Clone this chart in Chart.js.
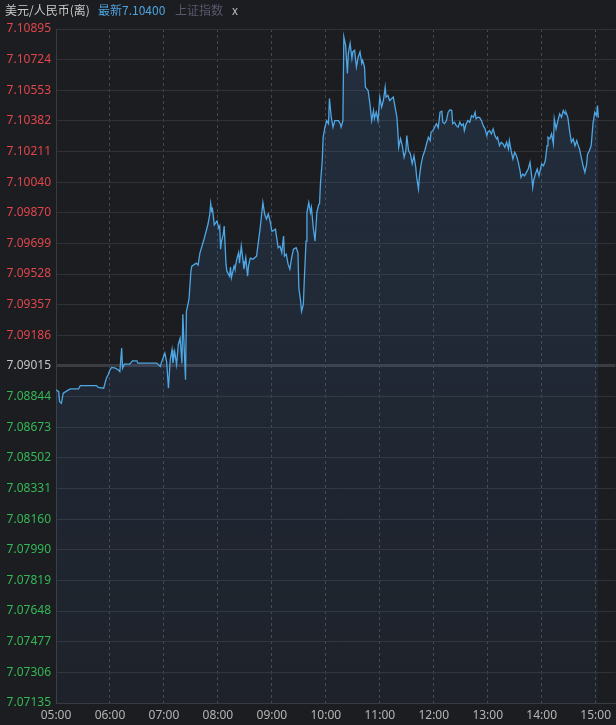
<!DOCTYPE html>
<html>
<head>
<meta charset="utf-8">
<script src="https://cdn.jsdelivr.net/npm/chart.js@4"></script>
<style>
  html, body { margin: 0; padding: 0; background: #1c1d21; }
  #wrap { position: relative; width: 616px; height: 725px; overflow: hidden; }
  #chart { position: absolute; left: 0; top: 0; }
  .hdr { position: absolute; top: 1px; height: 18px; line-height: 18px; font: 12px "Noto Sans CJK SC", "Noto Sans", sans-serif; white-space: nowrap; }
</style>
</head>
<body>
<div id="wrap">
  <canvas id="chart" width="616" height="725"></canvas>
  <span class="hdr" style="left:5px;color:#c9c9c9">美元/人民币(离)</span>
  <span class="hdr" style="left:98px;color:#4da3de">最新7.10400</span>
  <span class="hdr" style="left:175px;color:#5a5870">上证指数</span>
  <span class="hdr" style="left:232px;color:#b8b8b8">x</span>
</div>
<script>
// ===== DADOS =====
// minutos desde 05:00
const minutes = [
  0, 3, 4, 6, 8, 14, 16, 25, 27, 45, 47, 53, 54, 56, 58, 60, 62, 66, 69, 71,
  73, 74, 76, 82, 85, 90, 91, 112, 114, 116, 117, 119, 121, 123, 125, 127, 129, 130, 132, 134,
  136, 138, 140, 141, 144, 145, 147, 148, 150, 151, 156, 158, 160, 164, 167, 169, 171, 172, 173, 174,
  176, 179, 181, 182, 183, 184, 186, 187, 189, 190, 193, 194, 195, 198, 199, 201, 203, 204, 206, 208,
  209, 211, 213, 214, 216, 219, 223, 227, 230, 232, 234, 236, 238, 240, 241, 244, 247, 249, 251, 253,
  254, 256, 258, 260, 262, 264, 267, 269, 270, 272, 273, 275, 276, 278, 279, 281, 283, 284, 286, 288,
  290, 292, 293, 294, 296, 297, 299, 301, 303, 304, 306, 308, 310, 314, 316, 317, 319, 320, 322, 324,
  325, 327, 329, 330, 332, 334, 336, 338, 340, 341, 343, 344, 347, 349, 351, 353, 354, 356, 358, 360,
  362, 364, 366, 367, 369, 371, 375, 377, 379, 380, 381, 383, 385, 387, 389, 390, 392, 394, 396, 398,
  400, 401, 403, 404, 406, 408, 410, 412, 414, 416, 417, 419, 423, 425, 427, 429, 430, 432, 434, 436,
  438, 440, 441, 443, 445, 447, 449, 451, 453, 454, 456, 458, 460, 462, 464, 466, 467, 469, 471, 473,
  475, 477, 479, 480, 482, 484, 486, 488, 490, 491, 493, 495, 497, 499, 501, 503, 504, 506, 508, 510,
  512, 514, 516, 517, 519, 521, 523, 525, 527, 529, 530, 531, 533, 535, 537, 539, 540, 542, 544, 546,
  547, 549, 551, 553, 554, 556, 558, 560, 562, 564, 566, 567, 569, 571, 573, 575, 577, 579, 580, 582,
  584, 586, 588, 590, 591, 593, 595, 597, 599, 601, 602, 603
];

const precos = [
  7.08882, 7.08872, 7.08816, 7.08807, 7.08863, 7.08882, 7.08887, 7.08887, 7.08906, 7.08906,
  7.08895, 7.08891, 7.08910, 7.08947, 7.08966, 7.08994, 7.09007, 7.09003, 7.08994, 7.08984,
  7.09115, 7.09003, 7.09025, 7.09025, 7.09044, 7.09044, 7.09031, 7.09031, 7.09022, 7.09012,
  7.09031, 7.09059, 7.09087, 7.09040, 7.08891, 7.09050, 7.09106, 7.09031, 7.09096, 7.09022,
  7.09135, 7.09169, 7.09029, 7.09303, 7.08938, 7.09320, 7.09367, 7.09395, 7.09544, 7.09572,
  7.09589, 7.09578, 7.09645, 7.09712, 7.09768, 7.09807, 7.09863, 7.09921, 7.09880, 7.09891,
  7.09802, 7.09824, 7.09785, 7.09796, 7.09667, 7.09712, 7.09751, 7.09796, 7.09583, 7.09544,
  7.09516, 7.09567, 7.09507, 7.09572, 7.09555, 7.09611, 7.09647, 7.09589, 7.09684, 7.09600,
  7.09555, 7.09619, 7.09516, 7.09572, 7.09617, 7.09611, 7.09628, 7.09785, 7.09927, 7.09863,
  7.09835, 7.09863, 7.09824, 7.09768, 7.09768, 7.09779, 7.09675, 7.09684, 7.09647, 7.09740,
  7.09628, 7.09639, 7.09583, 7.09555, 7.09619, 7.09667, 7.09675, 7.09647, 7.09451, 7.09376,
  7.09320, 7.09359, 7.09488, 7.09712, 7.09871, 7.09927, 7.09871, 7.09899, 7.09787, 7.09712,
  7.09871, 7.09914, 7.09919, 7.10031, 7.10160, 7.10291, 7.10347, 7.10384, 7.10367, 7.10507,
  7.10403, 7.10347, 7.10384, 7.10384, 7.10367, 7.10347, 7.10384, 7.10851, 7.10804, 7.10647,
  7.10759, 7.10815, 7.10731, 7.10767, 7.10776, 7.10683, 7.10739, 7.10767, 7.10703, 7.10720,
  7.10683, 7.10571, 7.10552, 7.10479, 7.10384, 7.10440, 7.10395, 7.10431, 7.10384, 7.10515,
  7.10459, 7.10496, 7.10571, 7.10515, 7.10524, 7.10496, 7.10515, 7.10459, 7.10403, 7.10328,
  7.10235, 7.10283, 7.10244, 7.10179, 7.10216, 7.10300, 7.10216, 7.10199, 7.10143, 7.10188,
  7.10123, 7.10067, 7.10003, 7.10067, 7.10143, 7.10188, 7.10216, 7.10255, 7.10291, 7.10272,
  7.10320, 7.10328, 7.10367, 7.10345, 7.10431, 7.10436, 7.10375, 7.10367, 7.10384, 7.10431,
  7.10444, 7.10440, 7.10367, 7.10375, 7.10356, 7.10347, 7.10375, 7.10356, 7.10366, 7.10328,
  7.10366, 7.10384, 7.10375, 7.10412, 7.10403, 7.10431, 7.10394, 7.10403, 7.10401, 7.10384,
  7.10356, 7.10338, 7.10300, 7.10319, 7.10328, 7.10310, 7.10338, 7.10300, 7.10282, 7.10291,
  7.10244, 7.10263, 7.10254, 7.10235, 7.10263, 7.10226, 7.10272, 7.10216, 7.10170, 7.10207,
  7.10188, 7.10151, 7.10104, 7.10067, 7.10086, 7.10076, 7.10095, 7.10114, 7.10151, 7.10067,
  7.10011, 7.10048, 7.10086, 7.10114, 7.10076, 7.10123, 7.10142, 7.10132, 7.10160, 7.10244,
  7.10291, 7.10282, 7.10310, 7.10254, 7.10394, 7.10338, 7.10384, 7.10422, 7.10403, 7.10440,
  7.10422, 7.10431, 7.10403, 7.10328, 7.10263, 7.10282, 7.10244, 7.10272, 7.10254, 7.10226,
  7.10179, 7.10132, 7.10095, 7.10142, 7.10198, 7.10216, 7.10244, 7.10366, 7.10431, 7.10412,
  7.10468, 7.10400
];

const fechamentoAnterior = 7.09015;

const yTicks = [
  7.07135, 7.07306, 7.07477, 7.07648, 7.07819, 7.07990, 7.08160, 7.08331, 7.08502, 7.08673,
  7.08844, 7.09015, 7.09186, 7.09357, 7.09528, 7.09699, 7.09870, 7.10040, 7.10211, 7.10382,
  7.10553, 7.10724, 7.10895
];

const xTicks = [0, 60, 120, 180, 240, 300, 360, 420, 480, 540, 600];
const xLabels = ["05:00", "06:00", "07:00", "08:00", "09:00", "10:00", "11:00", "12:00", "13:00", "14:00", "15:00"];

// ===== GRÁFICO =====
const pontos = minutes.map((m, i) => ({ x: m, y: precos[i] }));
const ehFechamento = v => Math.abs(v - fechamentoAnterior) < 1e-7;

const ctx = document.getElementById("chart").getContext("2d");

new Chart(ctx, {
  type: "line",
  data: {
    datasets: [{
      data: pontos,
      borderColor: "#4ea6e4",
      borderWidth: 1.3,
      pointRadius: 0,
      tension: 0,
      fill: "start",
      backgroundColor: (c) => {
        const area = c.chart.chartArea;
        if (!area) return "rgba(60,110,160,0.12)";
        const g = c.chart.ctx.createLinearGradient(0, area.top, 0, area.bottom);
        g.addColorStop(0, "rgba(60,110,170,0.22)");
        g.addColorStop(1, "rgba(60,110,170,0.07)");
        return g;
      },
    }]
  },
  options: {
    responsive: false,
    animation: false,
    devicePixelRatio: 1,
    layout: { padding: { top: 29, right: 0, bottom: 0, left: 0 } },
    plugins: { legend: { display: false }, tooltip: { enabled: false } },
    scales: {
      x: {
        type: "linear",
        min: 0,
        max: 622,
        afterFit: (s) => { s.height = 22; },
        afterBuildTicks: (s) => { s.ticks = xTicks.map(v => ({ value: v })); },
        ticks: {
          autoSkip: false,
          maxRotation: 0,
          padding: 5,
          color: "#b4b4b4",
          font: { family: "Noto Sans", size: 12 },
          callback: (v, i) => xLabels[i],
        },
        grid: { color: "#46474c", lineWidth: 1, drawTicks: false },
        border: { display: true, color: "#3a3b40", dash: [3, 3] },
      },
      y: {
        min: 7.07135,
        max: 7.10895,
        afterFit: (s) => { s.width = 56; },
        afterBuildTicks: (s) => { s.ticks = yTicks.map(v => ({ value: v })); },
        ticks: {
          padding: 5,
          font: { family: "Noto Sans", size: 12 },
          color: (c) => {
            const v = c.tick.value;
            if (ehFechamento(v)) return "#c4c4c4";
            return v > fechamentoAnterior ? "#e0464b" : "#33b855";
          },
          callback: (v) => v.toFixed(5),
        },
        grid: {
          drawTicks: false,
          color: (c) => (c.tick && ehFechamento(c.tick.value)) ? "#3c3d42" : "#313236",
          lineWidth: (c) => (c.tick && ehFechamento(c.tick.value)) ? 3 : 1,
        },
        border: { display: true, color: "#3a3b40" },
      },
    },
  },
});
</script>
</body>
</html>
